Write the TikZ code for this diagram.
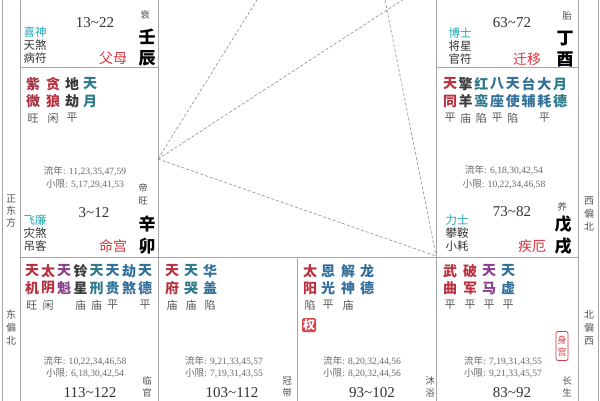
\documentclass[tikz,border=0pt]{standalone}
\usepackage{fontspec}
\setmainfont{Liberation Serif}
\newfontfamily\cjk{Noto Sans CJK SC}
\definecolor{redc}{HTML}{B8323F}
\definecolor{zwc}{HTML}{A33545}
\definecolor{blk}{HTML}{3A3A3A}
\definecolor{bluec}{HTML}{33709A}
\definecolor{tealc}{HTML}{2C7A8C}
\definecolor{purc}{HTML}{8B3F8F}
\definecolor{cyanc}{HTML}{22AAB5}
\definecolor{palc}{HTML}{D9343F}
\definecolor{grayc}{HTML}{555555}
\definecolor{lnc}{HTML}{6A6A6A}
\definecolor{darkc}{HTML}{333333}
\definecolor{gridc}{HTML}{A5A5A5}
\definecolor{dashc}{HTML}{8C8C8C}
\definecolor{quanc}{HTML}{D9474F}
\tikzset{
 gridline/.style={draw=gridc, line width=0.8pt},
 tri/.style={draw=dashc, dash pattern=on 3pt off 2pt, line width=0.6pt},
 xg/.style={inner sep=0pt, font=\cjk\bfseries\fontsize{14}{14}\selectfont},
 br/.style={inner sep=0pt, text=grayc, font=\cjk\fontsize{11}{11}\selectfont},
 minor/.style={inner sep=0pt, text=darkc, font=\cjk\fontsize{11.5}{11.5}\selectfont},
 god/.style={minor, text=cyanc},
 pal/.style={inner sep=0pt, text=palc, font=\cjk\fontsize{14}{14}\selectfont},
 gz/.style={inner sep=0pt, text=black, font=\cjk\bfseries\fontsize{17}{17}\selectfont},
 stage/.style={inner sep=0pt, text=grayc, font=\cjk\fontsize{9.5}{9.5}\selectfont},
 age/.style={inner sep=0pt, text=darkc, font=\fontsize{15}{15}\selectfont},
 ln/.style={inner sep=0pt, text=lnc, font=\fontsize{9.6}{9.6}\selectfont},
 side/.style={inner sep=0pt, text=grayc, font=\cjk\fontsize{10}{10}\selectfont},
}
\newcommand{\xing}[6]{%
  \node[xg,text=#3] at (#1,#2) {#4};
  \node[xg,text=#3] at (#1,#2+17) {#5};
  \node[br] at (#1,#2+34) {#6};}
\newcommand{\lnian}[1]{{\cjk 流年}: #1}
\newcommand{\xxian}[1]{{\cjk 小限}: #1}
\newcommand{\tl}{\textasciitilde}
\begin{document}
\begin{tikzpicture}[x=1pt,y=-1pt]
\useasboundingbox (0,0) rectangle (600,400);
\fill[white] (0,0) rectangle (600,400);
\clip (0,0) rectangle (600,400);
% grid
\foreach \x in {2,20,158,436,578,598} \draw[gridline] (\x,-5) -- (\x,405);
\draw[gridline] (297,257) -- (297,405);
\draw[gridline] (20,67) -- (158,67);
\draw[gridline] (436,67) -- (578,67);
\draw[gridline] (20,257) -- (578,257);
% triangle
\coordinate (ming) at (158,159);
\coordinate (tA) at (257,0);
\coordinate (tB) at (402.5,0);
\coordinate (tC) at (385,0);
\coordinate (brc) at (436,256);
\draw[tri] (ming) -- (tA);
\draw[tri] (ming) -- (tB);
\draw[tri] (tC) -- (brc);
\draw[tri] (ming) -- (brc);
% side labels
\node[side] (s1) at (11,199) {正}; \node[side] (s2) at (11,211) {东}; \node[side] (s3) at (11,223) {方};
\node[side] (s4) at (11,315) {东}; \node[side] (s5) at (11,328) {偏}; \node[side] (s6) at (11,341) {北};
\node[side] (s7) at (589,201) {西}; \node[side] (s8) at (589,214) {偏}; \node[side] (s9) at (589,227) {北};
\node[side] (s10) at (589,315) {北}; \node[side] (s11) at (589,328) {偏}; \node[side] (s12) at (589,341) {西};
% ---- top-left cell (壬辰)
\node[age] (a1) at (95,23) {13\tl22};
\node[stage] (st1) at (145,15) {衰};
\node[gz] (g1a) at (147,37) {壬};
\node[gz] (g1b) at (147,58) {辰};
\node[god] (m1a) at (35,32) {喜神};
\node[minor] (m1b) at (35,45) {天煞};
\node[minor] (m1c) at (35,58) {病符};
\node[pal] (p1) at (113,58) {父母};
% ---- 辛卯 cell
\xing{33}{84}{zwc}{紫}{微}{旺}
\xing{53}{84}{redc}{贪}{狼}{闲}
\xing{72}{84}{blk}{地}{劫}{平}
\xing{90}{84}{tealc}{天}{月}{}
\node[ln] (l2a) at (85,171) {\lnian{11,23,35,47,59}};
\node[ln] (l2b) at (85,184) {\xxian{5,17,29,41,53}};
\node[stage] (st2a) at (143,188) {帝};
\node[stage] (st2b) at (143,201) {旺};
\node[age] (a2) at (94,213) {3\tl12};
\node[god] (m2a) at (35,220) {飞廉};
\node[minor] (m2b) at (35,233) {灾煞};
\node[minor] (m2c) at (35,246) {吊客};
\node[pal] (p2) at (113,246) {命宫};
\node[gz] (g2a) at (147,224) {辛};
\node[gz] (g2b) at (147,246) {卯};
% ---- top-right cell (丁酉)
\node[age] (a3) at (512,23) {63\tl72};
\node[stage] (st3) at (567,16) {胎};
\node[gz] (g3a) at (565,39) {丁};
\node[gz] (g3b) at (565,59) {酉};
\node[god] (m3a) at (460,33) {博士};
\node[minor] (m3b) at (460,46) {将星};
\node[minor] (m3c) at (460,59) {官符};
\node[pal] (p3) at (527,59) {迁移};
% ---- 戊戌 cell
\xing{450}{84}{redc}{天}{同}{平}
\xing{465.7}{84}{blk}{擎}{羊}{庙}
\xing{481.4}{84}{tealc}{红}{鸾}{陷}
\xing{497.1}{84}{bluec}{八}{座}{平}
\xing{512.9}{84}{bluec}{天}{使}{陷}
\xing{528.6}{84}{bluec}{台}{辅}{}
\xing{544.3}{84}{bluec}{大}{耗}{平}
\xing{560}{84}{tealc}{月}{德}{}
\node[ln] (l4a) at (504,170) {\lnian{6,18,30,42,54}};
\node[ln] (l4b) at (504,184) {\xxian{10,22,34,46,58}};
\node[stage] (st4) at (562,207) {养};
\node[age] (a4) at (512,212) {73\tl82};
\node[god] (m4a) at (457,220) {力士};
\node[minor] (m4b) at (457,233) {攀鞍};
\node[minor] (m4c) at (457,246) {小耗};
\node[pal] (p4) at (532,246) {疾厄};
\node[gz] (g4a) at (563,224) {戊};
\node[gz] (g4b) at (563,246) {戌};
% ---- bottom-left cell
\xing{32}{271}{redc}{天}{机}{旺}
\xing{48}{271}{redc}{太}{阴}{闲}
\xing{64}{271}{purc}{天}{魁}{}
\xing{80.5}{271}{blk}{铃}{星}{庙}
\xing{96.5}{271}{tealc}{天}{刑}{庙}
\xing{112.5}{271}{bluec}{天}{贵}{平}
\xing{129}{271}{bluec}{劫}{煞}{}
\xing{145}{271}{bluec}{天}{德}{平}
\node[ln] (l5a) at (85,361) {\lnian{10,22,34,46,58}};
\node[ln] (l5b) at (85,373) {\xxian{6,18,30,42,54}};
\node[stage] (st5a) at (147,381) {临};
\node[stage] (st5b) at (147,393) {官};
\node[age] (a5) at (90,392.5) {113\tl122};
% ---- bottom cell 2
\xing{172}{271}{redc}{天}{府}{庙}
\xing{191}{271}{tealc}{天}{哭}{庙}
\xing{210}{271}{bluec}{华}{盖}{陷}
\node[ln] (l6a) at (224,361) {\lnian{9,21,33,45,57}};
\node[ln] (l6b) at (224,373) {\xxian{7,19,31,43,55}};
\node[stage] (st6a) at (287,381) {冠};
\node[stage] (st6b) at (287,393) {带};
\node[age] (a6) at (232,392.5) {103\tl112};
% ---- bottom cell 3
\xing{310}{271}{redc}{太}{阳}{陷}
\xing{328}{271}{bluec}{恩}{光}{平}
\xing{348}{271}{bluec}{解}{神}{庙}
\xing{367}{271}{bluec}{龙}{德}{}
\node[fill=quanc, rounded corners=1.5pt, minimum width=14pt, minimum height=14pt, inner sep=0pt, text=white, font=\cjk\bfseries\fontsize{12}{12}\selectfont] (quan) at (309,325) {权};
\node[ln] (l7a) at (362,361) {\lnian{8,20,32,44,56}};
\node[ln] (l7b) at (362,373) {\xxian{8,20,32,44,56}};
\node[stage] (st7a) at (430,381) {沐};
\node[stage] (st7b) at (430,393) {浴};
\node[age] (a7) at (372,392.5) {93\tl102};
% ---- bottom-right cell
\xing{450}{271}{redc}{武}{曲}{平}
\xing{470}{271}{redc}{破}{军}{平}
\xing{489}{271}{purc}{天}{马}{平}
\xing{508}{271}{bluec}{天}{虚}{平}
\node[draw=palc, rounded corners=2pt, minimum width=12pt, minimum height=29pt, line width=0.7pt, inner sep=0.5pt, align=center, text=palc, font=\cjk\fontsize{9}{12}\selectfont] (shen) at (562,346) {身\\宫};
\node[ln] (l8a) at (503,361) {\lnian{7,19,31,43,55}};
\node[ln] (l8b) at (503,373) {\xxian{9,21,33,45,57}};
\node[stage] (st8a) at (567,381) {长};
\node[stage] (st8b) at (567,393) {生};
\node[age] (a8) at (512,392.5) {83\tl92};
\end{tikzpicture}
\end{document}
